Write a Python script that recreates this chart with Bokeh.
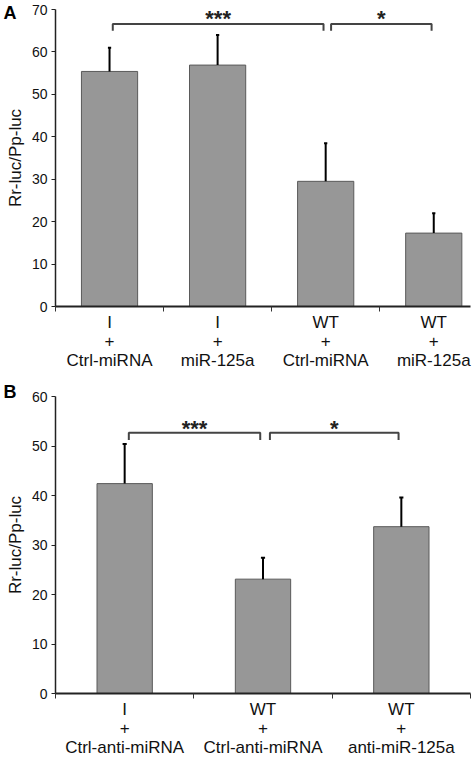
from bokeh.plotting import figure
from bokeh.layouts import column
from bokeh.models import Range1d, FixedTicker, Title, ColumnDataSource
from bokeh.embed import file_html
from bokeh.resources import INLINE
from bokeh.core.properties import value

# ---- Panel A data ----
labels_a = ["I\n+\nCtrl-miRNA", "I\n+\nmiR-125a", "WT\n+\nCtrl-miRNA", "WT\n+\nmiR-125a"]
mean_a = [55.4, 56.9, 29.5, 17.3]
err_a = [5.6, 7.1, 9.0, 4.7]
sig_left_a = [0, 2]
sig_right_a = [2, 3]
sig_text_a = ["***", "*"]
yticks_a = [0, 10, 20, 30, 40, 50, 60, 70]

# ---- Panel B data ----
labels_b = ["I\n+\nCtrl-anti-miRNA", "WT\n+\nCtrl-anti-miRNA", "WT\n+\nanti-miR-125a"]
mean_b = [42.4, 23.1, 33.7]
err_b = [8.0, 4.3, 5.9]
sig_left_b = [0, 1]
sig_right_b = [1, 2]
sig_text_b = ["***", "*"]
yticks_b = [0, 10, 20, 30, 40, 50, 60]

FONT = "Liberation Sans"
BAR = "#979797"


def panel(letter, labels, means, errs, sl, sr, st, yticks, ymax, xmax, bar_w,
          height, border_top, title_standoff, br_y, br_drop, star_y):
    n = len(labels)
    centers = [i + 0.5 for i in range(n)]
    p = figure(width=474, height=height, output_backend="svg",
               toolbar_location=None,
               x_range=Range1d(0, xmax), y_range=Range1d(0, ymax),
               min_border_left=55, min_border_right=4,
               min_border_top=border_top, min_border_bottom=0)
    p.outline_line_color = None
    p.grid.grid_line_color = None
    p.background_fill_color = "white"

    ups = [m + e for m, e in zip(means, errs)]
    src = ColumnDataSource(dict(x=centers, top=means, up=ups))
    p.vbar(x="x", top="top", bottom=0, width=bar_w, source=src,
           fill_color=BAR, line_color="#5a5a5a", line_width=1)
    p.segment(x0="x", y0="top", x1="x", y1="up", source=src,
              line_color="black", line_width=2)
    cap = 0.015
    p.segment(x0=[c - cap for c in centers], y0=ups,
              x1=[c + cap for c in centers], y1=ups,
              line_color="black", line_width=2)

    # significance brackets
    for a, b, t in zip(sl, sr, st):
        xa = centers[a] + (0.05 if a in sr else 0.03)
        xb = centers[b] - 0.02
        p.line(x=[xa, xa, xb, xb], y=[br_y - br_drop, br_y, br_y, br_y - br_drop],
               line_color="#444444", line_width=2)
        p.text(x=[(xa + xb) / 2], y=[star_y], text=[t], text_align="center",
               text_baseline="middle", text_font=value(FONT), text_font_size="22px",
               text_font_style="bold", text_color="#222222")

    # axes
    p.yaxis.ticker = FixedTicker(ticks=yticks)
    p.yaxis.axis_line_color = "#222222"
    p.yaxis.axis_line_width = 1.5
    p.yaxis.major_tick_line_color = "#222222"
    p.yaxis.major_tick_in = 0
    p.yaxis.major_tick_out = 4
    p.yaxis.minor_tick_line_color = None
    p.yaxis.major_label_text_font = FONT
    p.yaxis.major_label_text_font_size = "14px"
    p.yaxis.major_label_text_color = "#111111"
    p.yaxis.major_label_standoff = 4
    p.yaxis.axis_label = "Rr-luc/Pp-luc"
    p.yaxis.axis_label_text_font = FONT
    p.yaxis.axis_label_text_font_size = "17px"
    p.yaxis.axis_label_text_font_style = "normal"
    p.yaxis.axis_label_text_color = "#111111"
    p.yaxis.axis_label_standoff = 4

    p.xaxis.ticker = FixedTicker(ticks=centers, minor_ticks=list(range(n + 1)))
    p.xaxis.major_label_overrides = {c: l for c, l in zip(centers, labels)}
    p.xaxis.axis_line_color = "#222222"
    p.xaxis.axis_line_width = 2
    p.xaxis.major_tick_line_color = None
    p.xaxis.major_tick_in = 0
    p.xaxis.major_tick_out = 0
    p.xaxis.minor_tick_line_color = "#333333"
    p.xaxis.minor_tick_in = 0
    p.xaxis.minor_tick_out = 5
    p.xaxis.major_label_text_font = FONT
    p.xaxis.major_label_text_font_size = "17px"
    p.xaxis.major_label_text_line_height = 1.0
    p.xaxis.major_label_text_color = "#111111"
    p.xaxis.major_label_standoff = 1

    p.add_layout(Title(text=letter, align="left", offset=-52, standoff=title_standoff,
                       vertical_align="bottom", text_font=FONT,
                       text_font_size="18px", text_font_style="bold",
                       text_color="black"), "above")
    return p


pA = panel("A", labels_a, mean_a, err_a, sig_left_a, sig_right_a, sig_text_a, yticks_a,
           70, 3.84, 0.52, 372, 9, -26, 66.6, 1.6, 67.8)
pB = panel("B", labels_b, mean_b, err_b, sig_left_b, sig_right_b, sig_text_b, yticks_b,
           60, 3.0, 0.40, 387, 24, -10, 52.7, 1.5, 53.5)

layout = column(pA, pB, spacing=0)
open("out.html", "w").write(file_html(layout, INLINE))
